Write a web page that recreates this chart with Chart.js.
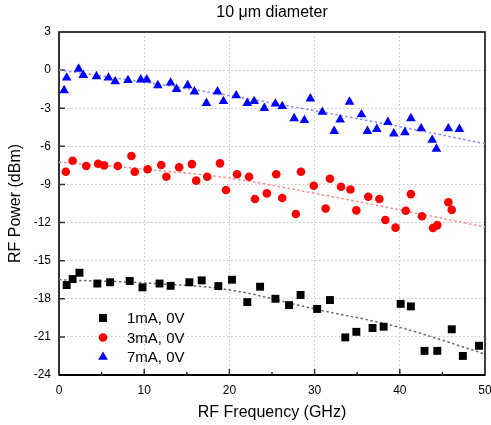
<!DOCTYPE html>
<html lang="en">
<head>
    <meta charset="UTF-8">
    <title>10 μm diameter</title>
    <style>
        html, body {
            margin: 0;
            padding: 0;
            background: #fff;
        }
        #wrap {
            width: 491px;
            height: 425px;
        }
    </style>
</head>
<body>
    <div id="wrap"><canvas id="rfChart" width="491" height="425"></canvas></div>

    <script src="https://cdn.jsdelivr.net/npm/chart.js"></script>
    <script>
        // values
        const seriesLabels = ['1mA, 0V', '3mA, 0V', '7mA, 0V'];

        const freq1mA = [0.9, 1.6, 2.4, 4.5, 6.0, 8.3, 9.8, 11.8, 13.1, 15.3, 16.75, 18.7, 20.3, 22.1, 23.6, 25.4,
            27.0, 28.35, 30.3, 31.8, 33.6, 34.9, 36.8, 38.1, 40.1, 41.3, 42.9, 44.4, 46.1, 47.4, 49.3];
        const power1mA = [-16.92, -16.45, -15.95, -16.8, -16.7, -16.6, -17.1, -16.8, -16.98, -16.7, -16.55, -17.0, -16.5, -18.26, -17.05, -18.0,
            -18.5, -17.7, -18.8, -18.1, -21.04, -20.6, -20.3, -20.2, -18.4, -18.6, -22.1, -22.1, -20.4, -22.5, -21.7];

        const freq3mA = [0.8, 1.6, 3.2, 4.6, 5.3, 6.9, 8.5, 8.9, 10.4, 12.0, 12.6, 14.1, 15.6, 16.1, 17.4, 18.9, 19.6, 20.9, 22.3, 23.0, 24.4,
            25.5, 26.2, 27.8, 28.4, 29.9, 31.3, 31.8, 33.1, 34.2, 34.9, 36.3, 37.6, 38.3, 39.5, 40.7, 41.3, 42.6, 43.9, 44.4, 45.7, 46.1];
        const power3mA = [-8.0, -7.13, -7.55, -7.37, -7.5, -7.55, -6.76, -8.0, -7.8, -7.47, -8.4, -7.65, -7.4, -8.7, -8.4, -7.34, -9.44, -8.2, -8.4, -10.15, -9.7,
            -8.2, -10.07, -11.33, -8.0, -9.1, -10.9, -8.55, -9.18, -9.4, -11.04, -9.97, -10.15, -11.8, -12.4, -11.07, -9.76, -11.5, -12.43, -12.2, -10.4, -11.0];

        const freq7mA = [0.6, 0.9, 2.3, 2.85, 4.4, 5.8, 6.6, 8.1, 9.6, 10.3, 11.6, 13.1, 13.8, 15.1, 15.9, 17.3, 18.6, 19.3, 20.8, 22.1, 22.9, 24.1,
            25.4, 26.2, 27.6, 28.8, 29.5, 30.9, 32.3, 33.0, 34.1, 35.5, 36.2, 37.3, 38.6, 39.3, 40.6, 41.3, 42.5, 43.8, 44.3, 45.7, 47.0];
        const power7mA = [-1.6, -0.6, 0.1, -0.4, -0.5, -0.6, -0.9, -0.8, -0.75, -0.75, -1.2, -1.0, -1.5, -1.2, -1.7, -2.6, -1.7, -2.45, -2.0, -2.6, -2.45, -3.0,
            -2.65, -2.85, -3.8, -3.95, -2.25, -3.3, -4.8, -3.9, -2.5, -3.5, -4.8, -4.65, -4.1, -5.0, -4.9, -3.8, -4.6, -5.5, -6.2, -4.6, -4.65];

        // dotted trend lines, read at a few frequencies
        const fitFreq = [0, 10, 20, 30, 40, 50];
        const fit1mA = [-16.5, -16.75, -17.3, -18.8, -20.25, -22.35];
        const fit3mA = [-7.25, -7.8, -8.5, -9.7, -11.0, -12.35];
        const fit7mA = [0, -0.95, -2.0, -3.2, -4.45, -5.8];

        const xTicks = [0, 10, 20, 30, 40, 50];
        const yTicks = [3, 0, -3, -6, -9, -12, -15, -18, -21, -24];

        const FONT = 'Arial, "Liberation Sans", sans-serif';

        function pts(xs, ys) {
            return xs.map((x, i) => ({ x: x, y: ys[i] }));
        }

        const markerStyles = [
            { color: '#000000', style: 'rect', radius: 5.6 },
            { color: '#ff0000', style: 'circle', radius: 4.3 },
            { color: '#0000ff', style: 'triangle', radius: 5.6 }
        ];

        // box, inward ticks and the legend inside the plot
        const framePlugin = {
            id: 'framePlugin',
            beforeDatasetsDraw(chart) {
                const ctx = chart.ctx;
                const a = chart.chartArea;
                const xs = chart.scales.x;
                const ys = chart.scales.y;
                ctx.save();
                ctx.strokeStyle = '#000';
                ctx.lineWidth = 1.5;
                ctx.strokeRect(a.left, a.top, a.right - a.left, a.bottom - a.top);

                // heavier left and bottom axes
                ctx.lineWidth = 2;
                ctx.strokeStyle = '#333';
                ctx.beginPath();
                ctx.moveTo(a.left, a.top);
                ctx.lineTo(a.left, a.bottom);
                ctx.stroke();
                ctx.strokeStyle = '#000';
                ctx.beginPath();
                ctx.moveTo(a.left, a.bottom);
                ctx.lineTo(a.right, a.bottom);
                ctx.stroke();

                ctx.lineWidth = 1.5;
                ctx.strokeStyle = '#333';
                ctx.beginPath();
                for (let v = 5; v < 50; v += 5) {
                    const px = xs.getPixelForValue(v);
                    const len = v % 10 === 0 ? 6 : 3;
                    ctx.moveTo(px, a.bottom);
                    ctx.lineTo(px, a.bottom - len);
                }
                for (let v = -21; v < 3; v += 3) {
                    const py = ys.getPixelForValue(v);
                    ctx.moveTo(a.left, py);
                    ctx.lineTo(a.left + 6, py);
                }
                ctx.stroke();
                ctx.restore();
            },
            afterDraw(chart) {
                const ctx = chart.ctx;
                const a = chart.chartArea;
                ctx.save();
                ctx.font = '15px ' + FONT;
                ctx.textBaseline = 'middle';
                ctx.textAlign = 'left';
                seriesLabels.forEach((label, i) => {
                    const m = markerStyles[i];
                    const y = a.bottom - 57 + i * 19.5;
                    const x = a.left + 44;
                    ctx.fillStyle = m.color;
                    ctx.strokeStyle = m.color;
                    Chart.helpers.drawPoint(ctx, {
                        pointStyle: m.style,
                        radius: m.radius,
                        rotation: 0,
                        borderWidth: 0
                    }, x, y);
                    ctx.fillStyle = '#000';
                    ctx.fillText(label, x + 24, y + 1);
                });
                ctx.restore();
            }
        };

        function scatterSet(i, xs, ys) {
            const m = markerStyles[i];
            return {
                type: 'scatter',
                label: seriesLabels[i],
                data: pts(xs, ys),
                pointStyle: m.style,
                pointRadius: m.radius,
                pointHoverRadius: m.radius,
                backgroundColor: m.color,
                borderColor: m.color,
                pointBorderWidth: 0,
                clip: false,
                order: 1
            };
        }

        function fitSet(xs, ys, color) {
            return {
                type: 'line',
                data: pts(xs, ys),
                borderColor: color,
                borderWidth: 1.5,
                borderDash: [2.5, 2.5],
                pointRadius: 0,
                cubicInterpolationMode: 'monotone',
                fill: false,
                order: 2
            };
        }

        new Chart(document.getElementById('rfChart'), {
            data: {
                datasets: [
                    fitSet(fitFreq, fit1mA, '#6a6a6a'),
                    fitSet(fitFreq, fit3mA, '#ff8a8a'),
                    fitSet(fitFreq, fit7mA, '#8a8aff'),
                    scatterSet(0, freq1mA, power1mA),
                    scatterSet(1, freq3mA, power3mA),
                    scatterSet(2, freq7mA, power7mA)
                ]
            },
            options: {
                responsive: false,
                animation: false,
                devicePixelRatio: 1,
                layout: {
                    padding: { left: 0, right: 6, top: 0, bottom: 0 }
                },
                plugins: {
                    legend: { display: false },
                    tooltip: { enabled: false },
                    title: {
                        display: true,
                        fullSize: false,
                        text: '10 μm diameter',
                        color: '#000',
                        font: { family: FONT, size: 16, weight: 'normal' },
                        padding: { top: 3, bottom: 9.8 }
                    }
                },
                scales: {
                    x: {
                        type: 'linear',
                        position: 'bottom',
                        min: 0,
                        max: 50,
                        afterBuildTicks: (s) => { s.ticks = xTicks.map(v => ({ value: v })); },
                        afterFit: (s) => {
                            s.height = 50;
                            s.paddingLeft = 0;
                            s.paddingRight = 0;
                        },
                        ticks: {
                            color: '#000',
                            padding: 8,
                            font: { family: FONT, size: 12 },
                            maxRotation: 0
                        },
                        grid: {
                            drawTicks: false,
                            lineWidth: 1,
                            color: (c) => (c.tick && (c.tick.value === 0 || c.tick.value === 50)) ? 'rgba(0,0,0,0)' : '#c4c4c4'
                        },
                        border: { display: false, dash: [1.5, 2.5] },
                        title: {
                            display: true,
                            text: 'RF Frequency (GHz)',
                            color: '#000',
                            font: { family: FONT, size: 16 },
                            padding: { top: 4, bottom: 3 }
                        }
                    },
                    y: {
                        type: 'linear',
                        position: 'left',
                        min: -24,
                        max: 3,
                        afterBuildTicks: (s) => { s.ticks = yTicks.map(v => ({ value: v })); },
                        afterFit: (s) => {
                            s.width = 59;
                            s.paddingTop = 0;
                            s.paddingBottom = 0;
                        },
                        ticks: {
                            color: '#000',
                            padding: 8,
                            font: { family: FONT, size: 12 }
                        },
                        grid: {
                            drawTicks: false,
                            lineWidth: 1,
                            color: (c) => (c.tick && (c.tick.value === 3 || c.tick.value === -24)) ? 'rgba(0,0,0,0)' : '#c4c4c4'
                        },
                        border: { display: false, dash: [1.5, 2.5] },
                        title: {
                            display: true,
                            text: 'RF Power (dBm)',
                            color: '#000',
                            font: { family: FONT, size: 16 },
                            padding: { top: 6, bottom: 2 }
                        }
                    }
                }
            },
            plugins: [framePlugin]
        });
    </script>
</body>
</html>
